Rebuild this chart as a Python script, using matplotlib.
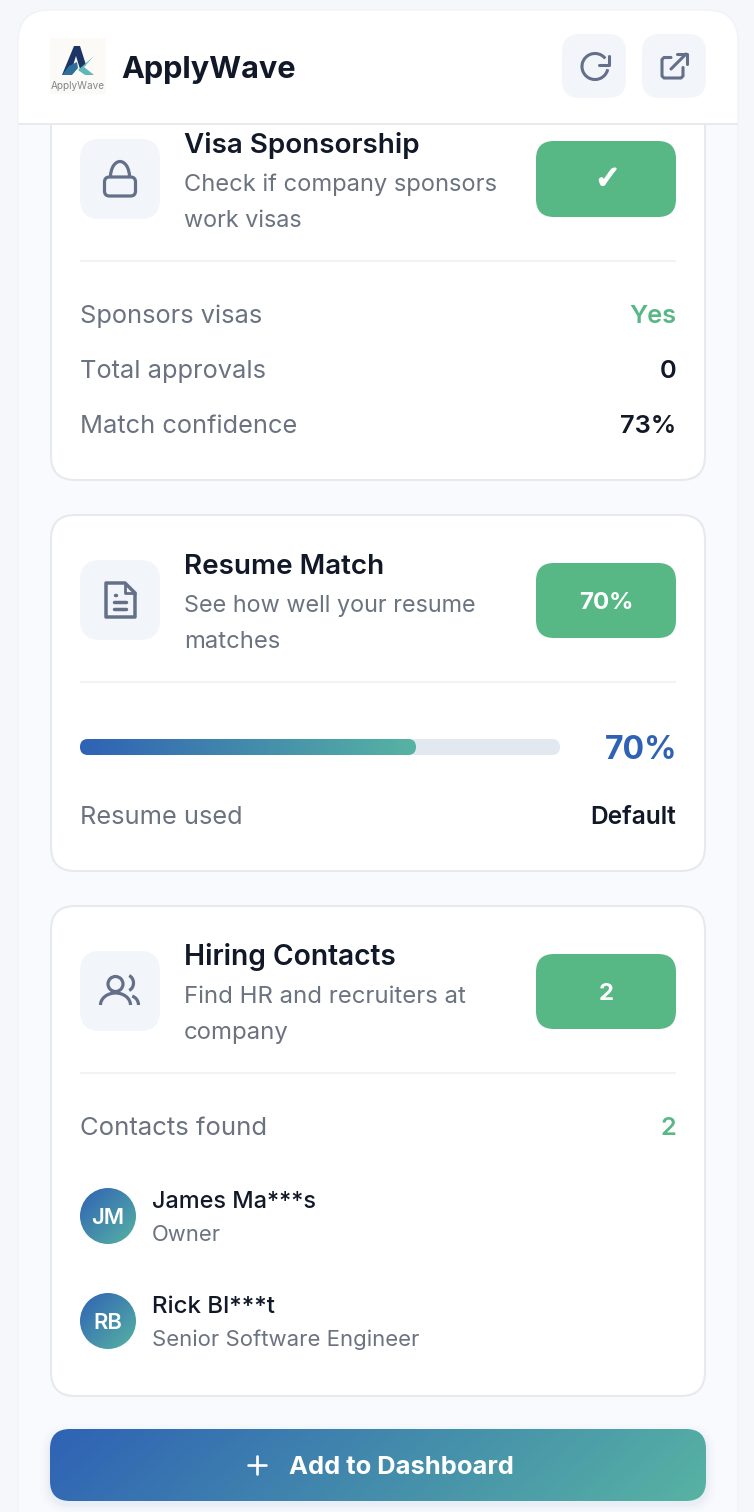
import numpy as np
import matplotlib
matplotlib.use("Agg")
import matplotlib.pyplot as plt
import matplotlib.patheffects as pe
from matplotlib.patches import FancyBboxPatch, Circle, Arc, Polygon, Rectangle
from matplotlib.colors import LinearSegmentedColormap

# ---- content ----
app_name = "ApplyWave"
visa_title = "Visa Sponsorship"
visa_desc = ["Check if company sponsors", "work visas"]
visa_badge = "✓"
visa_rows = ["Sponsors visas", "Total approvals", "Match confidence"]
visa_values = ["Yes", "0", "73%"]
resume_title = "Resume Match"
resume_desc = ["See how well your resume", "matches"]
resume_pct = 70
resume_used_label = "Resume used"
resume_used_value = "Default"
contacts_title = "Hiring Contacts"
contacts_desc = ["Find HR and recruiters at", "company"]
contacts_count = 2
contacts_label = "Contacts found"
contact_initials = ["JM", "RB"]
contact_names = ["James Ma***s", "Rick Bl***t"]
contact_roles = ["Owner", "Senior Software Engineer"]
cta_label = "Add to Dashboard"

# ---- style ----
W, H = 754, 1512
plt.rcParams['font.family'] = ['Inter', 'DejaVu Sans']
INK = "#111827"; GREY = "#6b7280"; SLATE = "#64708a"; GREEN = "#57b785"; BLUE = "#2f62b5"
TEAL = "#57b3a3"; BORDER = "#e7e9ed"; CHIP = "#f2f5f9"; RULE = "#f1f3f6"
grad = LinearSegmentedColormap.from_list("g", [BLUE, TEAL])
PX = 72 / 100  # font px -> pt at dpi 100

fig = plt.figure(figsize=(W / 100, H / 100), dpi=100, facecolor="#f5f7fb")
ax = fig.add_axes([0, 0, 1, 1])
ax.set_xlim(0, W); ax.set_ylim(H, 0); ax.axis("off")


def rrect(x0, y0, x1, y1, r, fc="none", ec="none", lw=0, z=1, alpha=None):
    p = FancyBboxPatch((x0, y0), x1 - x0, y1 - y0, boxstyle=f"round,pad=0,rounding_size={r}",
                       fc=fc, ec=ec, lw=lw, zorder=z, alpha=alpha, mutation_aspect=1)
    ax.add_patch(p)
    return p


def gradient(x0, y0, x1, y1, clip, z=3, angle=0.25):
    xs = np.linspace(0, 1, 200)
    ys = np.linspace(0, 1, 60)
    X, Y = np.meshgrid(xs, ys)
    G = (X + angle * Y) / (1 + angle)
    im = ax.imshow(G, cmap=grad, extent=(x0, x1, y1, y0), aspect="auto", zorder=z, vmin=0, vmax=1)
    im.set_clip_path(clip)
    ax.set_xlim(0, W); ax.set_ylim(H, 0)


def txt(x, y, s, px, color=INK, weight="normal", ha="left", z=6, **k):
    return ax.text(x, y, s, fontsize=px * PX, color=color, fontweight=weight, ha=ha, va="baseline", zorder=z, **k)


def stroke(xs, ys, color=SLATE, lw=2.1, z=6):
    ax.plot(xs, ys, color=color, lw=lw, solid_capstyle="round", solid_joinstyle="round", zorder=z)


# panel
rrect(18, 10, 738, H + 60, 32, fc="#f9fafd", ec="#f1f3f8", lw=1, z=1)


def card(y0, y1):
    rrect(51, y0, 705, y1, 24, fc="white", ec=BORDER, lw=1.5, z=2)


def section(badge_y0, badge_y1, icon_y0, title, desc, badge, rule_y, title_y, sizes):
    rrect(80, icon_y0, 160, icon_y0 + 80, 20, fc=CHIP, z=3)
    txt(184, title_y, title, sizes[0], weight="semibold")
    txt(184, title_y + 38, desc[0], sizes[1], color=GREY)
    txt(184, title_y + 74, desc[1], sizes[2], color=GREY)
    rrect(536, badge_y0, 676, badge_y1, 18, fc=GREEN, z=3)
    txt(606, (badge_y0 + badge_y1) / 2 + 8.5, badge, 24, color="white", weight="bold", ha="center")
    ax.plot([80, 676], [rule_y, rule_y], color=RULE, lw=1.5, zorder=3, solid_capstyle="butt")


# --- card 1
card(90, 480)
section(141, 217, 139, visa_title, visa_desc, "", 261, 153, (27.8, 23.7, 23.4))
check = txt(608, 188, visa_badge, 31, color="white", weight="bold", ha="center", family=['DejaVu Sans'])
check.set_path_effects([pe.withStroke(linewidth=1.4, foreground="white")])
row_ys = [323, 378, 433]
for y, lab, val in zip(row_ys, visa_rows, visa_values):
    txt(80, y, lab, 25.4, color=GREY)
    txt(676, y, val, 25.4, color=GREEN if val == "Yes" else INK, weight="semibold", ha="right")
# lock icon
rrect(104.5, 177, 135.5, 196, 5, ec=SLATE, lw=2.3, z=6)
ax.add_patch(Arc((120, 177), 19, 31, theta1=180, theta2=360, ec=SLATE, lw=2.3, zorder=6))

# --- card 2
card(515, 871)
section(563, 638, 560, resume_title, resume_desc, f"{resume_pct}%", 682, 574, (27.8, 23.4, 23.8))
# document icon
doc = Polygon([[106, 583], [125, 583], [135, 593], [135, 617], [106, 617]], closed=True,
              fc="none", ec=SLATE, lw=2.5, joinstyle="round", zorder=6)
ax.add_patch(doc)
stroke([125, 125, 135], [583, 593, 593], lw=2)
stroke([114.5, 115.5], [595, 595], lw=2.5)
stroke([114, 126], [602, 602], lw=2.5)
stroke([114, 126], [609, 609], lw=2.5)
# progress
rrect(80, 739, 560, 755, 8, fc="#e2e8f0", z=3)
fill_x = 80 + (560 - 80) * resume_pct / 100
pclip = rrect(80, 739, fill_x, 755, 8, fc="none", z=3)
gradient(80, 739, fill_x, 755, pclip, z=4, angle=0)
txt(677, 759, f"{resume_pct}%", 32, color=BLUE, weight="bold", ha="right")
txt(80, 824, resume_used_label, 25.4, color=GREY)
txt(676, 824, resume_used_value, 24.5, weight="semibold", ha="right")

# --- card 3
card(906, 1396)
section(954, 1029, 951, contacts_title, contacts_desc, str(contacts_count), 1073, 965, (28.2, 23.9, 23.9))
# people icon
ax.add_patch(Circle((115.5, 984), 7.5, fc="none", ec=SLATE, lw=2.3, zorder=6))
ax.add_patch(Arc((115.5, 1005), 30, 24, theta1=180, theta2=360, ec=SLATE, lw=2.3, zorder=6))
ax.add_patch(Arc((126.5, 983), 14, 16, theta1=-70, theta2=70, ec=SLATE, lw=2.3, zorder=6))
ax.add_patch(Arc((129, 1005), 19, 19, theta1=-70, theta2=0, ec=SLATE, lw=2.3, zorder=6))
txt(80, 1135, contacts_label, 25.7, color=GREY)
txt(676, 1135, str(contacts_count), 25.4, color=GREEN, weight="semibold", ha="right")
name_sizes = [23.4, 24]
role_sizes = [22, 22.1]
for cy, ini, name, role, ns, rs in zip([1216, 1321], contact_initials, contact_names, contact_roles, name_sizes, role_sizes):
    c = Circle((108, cy), 28, fc="none", ec="none", zorder=3)
    ax.add_patch(c)
    gradient(80, cy - 28, 136, cy + 28, c, z=4, angle=1)
    txt(108, cy + 8, ini, 22, color="white", weight="semibold", ha="center")
    txt(152, cy - 8, name, ns, weight="medium")
    txt(152, cy + 25, role, rs, color=GREY)

# --- call to action
for i, a in zip([10, 7, 4, 2], [0.012, 0.016, 0.02, 0.025]):
    rrect(50 - i, 1429 - i + 5, 706 + i, 1501 + i + 3, 20 + i, fc=BLUE, z=2, alpha=a)
b = rrect(50, 1429, 706, 1501, 20, fc="none", z=3)
gradient(50, 1429, 706, 1501, b, z=3, angle=0.12)
stroke([257, 257], [1456, 1474], color="white", lw=1.9)
stroke([248, 266], [1465, 1465], color="white", lw=1.9)
txt(289, 1474, cta_label, 25.5, color="white", weight="bold")

# --- header on top of the scrolled card
hdr = rrect(18, 10, 738, 200, 32, fc="white", ec="#f1f3f8", lw=1, z=7)
head_clip = Rectangle((0, 0), W, 123, transform=ax.transData)
hdr.set_clip_path(head_clip)
ax.plot([18, 738], [123.5, 123.5], color="#e8eaee", lw=1.5, zorder=8, solid_capstyle="butt")

# logo
rrect(50, 38, 106, 94, 2, fc="#fbfaf7", z=8)
ax.add_patch(Polygon([[74, 46], [80, 46], [86, 65], [80, 69], [76, 56], [71, 72], [64, 75], [62, 75]],
                     closed=True, fc="#1c3566", ec="none", zorder=9))
ax.add_patch(Polygon([[69, 66], [77, 62], [78, 68], [72, 75], [62, 75]], closed=True, fc="#2f6f9a", ec="none", zorder=9))
ax.add_patch(Polygon([[78, 70], [94, 56], [84, 67], [94, 75], [85, 75]], closed=True, fc="#5fb8b8", ec="none", zorder=9))
txt(78, 89, app_name, 10, color="#82868e", ha="center", z=9)
txt(121.5, 78, app_name, 30.7, weight="bold", z=9)

# header buttons
for x0 in (562, 642):
    rrect(x0, 34, x0 + 64, 98, 18, fc=CHIP, z=8)
ax.add_patch(Arc((595, 66.5), 26, 26, theta1=12, theta2=322, ec=SLATE, lw=2.2, zorder=9))
stroke([608.5, 608.5, 598.7], [55.5, 64.7, 64.7], lw=2.2, z=9)
stroke([671, 664, 662, 662, 664, 681, 683, 683], [57.5, 57.5, 59.5, 76, 78, 78, 76, 67.5], lw=2.2, z=9)
stroke([671, 686], [69, 54], lw=2.2, z=9)
stroke([676.5, 686.5, 686.5], [53.5, 53.5, 64], lw=2.2, z=9)

fig.savefig("out.png", dpi=100, facecolor=fig.get_facecolor())
